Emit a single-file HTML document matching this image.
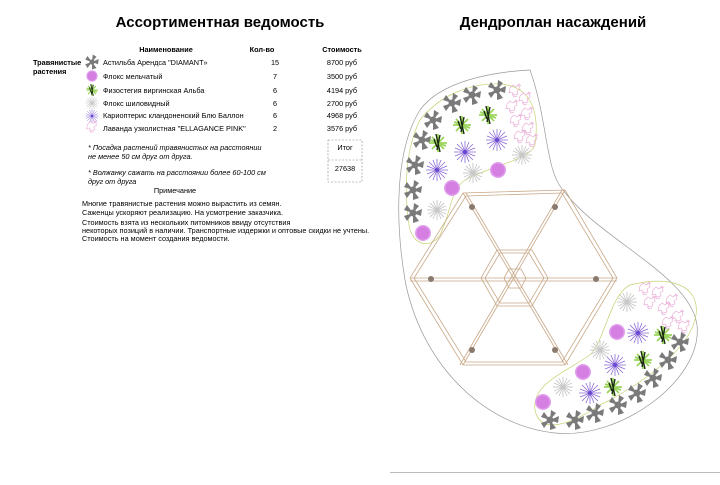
<!DOCTYPE html>
<html><head><meta charset="utf-8"><style>
body{margin:0;width:720px;height:480px;background:#fff;overflow:hidden;font-family:"Liberation Sans",sans-serif;}
</style></head><body>
<svg width="720" height="480" viewBox="0 0 720 480" xmlns="http://www.w3.org/2000/svg" font-family="Liberation Sans, sans-serif">
<defs>
<g id="pw"><g fill="#7a7a7a">
<path d="M0,0 L1,-10 L6,-7 Z"/><path d="M0,0 L9,-4 L8,3 Z"/><path d="M0,0 L6,8 L0,10 Z"/><path d="M0,0 L-6,8 L-9,3 Z"/><path d="M0,0 L-9,-3 L-6,-8 Z"/><circle r="3.5"/></g></g>
<g id="ph"><circle r="8" fill="#e0a0ec"/><circle r="6.5" fill="#d070e0" opacity=".7"/></g>
<g id="gr"><g stroke="#9ad45a" stroke-width="1.8"><line x1="-9" y1="0" x2="9" y2="0"/><line x1="0" y1="-9" x2="0" y2="9"/><line x1="-6" y1="-6" x2="6" y2="6"/><line x1="-6" y1="6" x2="6" y2="-6"/><line x1="-8" y1="-3" x2="8" y2="3"/></g><path d="M-2,-9 L2,9 M2,-8 L-1,7 M-4,-4 L-1,4" stroke="#1a2a10" stroke-width="1.4"/></g>
<g id="vi"><g stroke="#8a6ad8" stroke-width=".8"><line x1="-11" y1="0" x2="11" y2="0"/><line x1="0" y1="-11" x2="0" y2="11"/><line x1="-8" y1="-8" x2="8" y2="8"/><line x1="-8" y1="8" x2="8" y2="-8"/><line x1="-10" y1="-4" x2="10" y2="4"/><line x1="-4" y1="10" x2="4" y2="-10"/><line x1="-10" y1="4" x2="10" y2="-4"/><line x1="4" y1="10" x2="-4" y2="-10"/></g><circle r="2" fill="#6a4ad0"/></g>
<g id="sp"><g stroke="#c8c8c8" stroke-width=".9"><line x1="-10" y1="0" x2="10" y2="0"/><line x1="0" y1="-10" x2="0" y2="10"/><line x1="-7" y1="-7" x2="7" y2="7"/><line x1="-7" y1="7" x2="7" y2="-7"/><line x1="-9" y1="-4" x2="9" y2="4"/><line x1="-4" y1="9" x2="4" y2="-9"/><line x1="-9" y1="4" x2="9" y2="-4"/><line x1="4" y1="9" x2="-4" y2="-9"/></g></g>
<g id="lv" fill="none" stroke="#eab0d8" stroke-width=".7"><path d="M-5,-4 l3,-3 3,2 3,-2 1,4 -3,2 1,3 -4,1 -2,-3 -3,1z M-3,2 l2,3 3,-1 M2,-6 l2,-2 2,2"/></g>
</defs>
<text x="220" y="27" font-size="15" font-weight="bold" text-anchor="middle">Ассортиментная ведомость</text>
<text x="553" y="27" font-size="15" font-weight="bold" text-anchor="middle">Дендроплан насаждений</text>
<g font-size="7.3">
<g font-weight="bold"><text x="166" y="52" text-anchor="middle">Наименование</text><text x="262" y="52" text-anchor="middle">Кол-во</text><text x="342" y="52" text-anchor="middle">Стоимость</text>
<text x="33" y="65">Травянистые</text><text x="33" y="74">растения</text></g>
<g transform="translate(92,62) scale(.75)"><use href="#pw"/></g>
<g transform="translate(92,76) scale(.7)"><use href="#ph"/></g>
<g transform="translate(92,90) scale(.65)"><use href="#gr"/></g>
<g transform="translate(92,103) scale(.65)"><use href="#sp"/></g>
<g transform="translate(92,116) scale(.6)"><use href="#vi"/></g>
<g transform="translate(92,128) scale(.9)"><use href="#lv"/></g>
<text x="103" y="65">Астильба Арендса "DIAMANT»</text><text x="275" y="65" text-anchor="middle">15</text><text x="342" y="65" text-anchor="middle">8700 руб</text>
<text x="103" y="79">Флокс мельчатый</text><text x="275" y="79" text-anchor="middle">7</text><text x="342" y="79" text-anchor="middle">3500 руб</text>
<text x="103" y="93">Физостегия виргинская Альба</text><text x="275" y="93" text-anchor="middle">6</text><text x="342" y="93" text-anchor="middle">4194 руб</text>
<text x="103" y="106">Флокс шиловидный</text><text x="275" y="106" text-anchor="middle">6</text><text x="342" y="106" text-anchor="middle">2700 руб</text>
<text x="103" y="118">Кариоптерис кландоненский Блю Баллон</text><text x="275" y="118" text-anchor="middle">6</text><text x="342" y="118" text-anchor="middle">4968 руб</text>
<text x="103" y="131">Лаванда узколистная "ELLAGANCE PINK"</text><text x="275" y="131" text-anchor="middle">2</text><text x="342" y="131" text-anchor="middle">3576 руб</text>
<g font-style="italic"><text x="88" y="150">* Посадка растений травянистых на расстоянии</text><text x="88" y="159">не менее 50 см друг от друга.</text>
<text x="88" y="175">* Волжанку сажать на расстоянии более 60-100 см</text><text x="88" y="184">друг от друга</text></g>
<text x="175" y="193" text-anchor="middle">Примечание</text>
<rect x="328" y="140" width="34" height="42" fill="none" stroke="#888" stroke-width=".6" stroke-dasharray="2,1.5"/>
<line x1="328" y1="160" x2="362" y2="160" stroke="#888" stroke-width=".6" stroke-dasharray="2,1.5"/>
<text x="345" y="150" text-anchor="middle">Итог</text><text x="345" y="171" text-anchor="middle">27638</text>
<text x="82" y="206">Многие травянистые растения можно вырастить из семян.</text>
<text x="82" y="215">Саженцы ускоряют реализацию. На усмотрение заказчика.</text>
<text x="82" y="225">Стоимость взята из нескольких питомников ввиду отсутствия</text>
<text x="82" y="233">некоторых позиций в наличии. Транспортные издержки и оптовые скидки не учтены.</text>
<text x="82" y="241">Стоимость на момент создания ведомости.</text>
</g>
<path d="M530,70 C548,120 545,170 563,190 C600,240 690,275 697,325 C703,380 620,440 555,433 C480,425 420,360 405,280 C395,220 395,150 420,110 C440,82 490,72 530,70 Z" fill="none" stroke="#999" stroke-width=".7"/>
<path d="M500,84 C530,86 540,110 535,145 C530,160 485,168 465,180 C450,190 452,210 440,235 C430,250 412,245 409,225 C404,190 405,150 420,120 C440,95 470,83 500,84 Z" fill="none" stroke="#c8d070" stroke-width=".7"/>
<path d="M630,285 C670,275 700,285 696,315 C692,345 650,380 600,405 C570,425 540,435 535,410 C532,385 560,375 590,355 C605,340 610,295 630,285 Z" fill="none" stroke="#c8d070" stroke-width=".7"/>
<g fill="none" stroke="#c9a888" stroke-width=".8">
<polygon points="463,193 565,190 617,278 565,365 463,365 410,278"/>
<polygon points="466,196 562,193 613,278 562,362 466,362 414,278"/>
<line x1="410" y1="278" x2="617" y2="278"/><line x1="410" y1="281" x2="617" y2="281"/>
<line x1="463" y1="193" x2="565" y2="365"/><line x1="466" y1="193" x2="568" y2="365"/>
<line x1="565" y1="190" x2="463" y2="365"/><line x1="562" y1="190" x2="460" y2="365"/>
<polygon points="497,250 532,250 548,278 532,306 497,306 481,278"/>
<polygon points="500,253 529,253 544,278 529,303 500,303 485,278"/>
<polygon points="509,269 521,269 526,278 521,288 509,288 504,278"/>
</g>
<g fill="#8a7a6e"><circle cx="472" cy="207" r="3"/><circle cx="555" cy="207" r="3"/><circle cx="431" cy="279" r="3"/><circle cx="596" cy="279" r="3"/><circle cx="472" cy="350" r="3"/><circle cx="555" cy="350" r="3"/></g>
<g>
<use href="#lv" x="515" y="92"/><use href="#lv" x="525" y="100"/><use href="#lv" x="512" y="108"/><use href="#lv" x="527" y="115"/><use href="#lv" x="516" y="122"/><use href="#lv" x="528" y="130"/><use href="#lv" x="520" y="138"/><use href="#lv" x="532" y="142"/>
<use href="#lv" x="645" y="290"/><use href="#lv" x="658" y="294"/><use href="#lv" x="672" y="302"/><use href="#lv" x="650" y="304"/><use href="#lv" x="664" y="310"/><use href="#lv" x="678" y="318"/><use href="#lv" x="668" y="324"/><use href="#lv" x="684" y="328"/>
<use href="#pw" x="472" y="95"/><use href="#pw" x="497" y="90"/><use href="#pw" x="452" y="103"/><use href="#pw" x="433" y="120"/><use href="#pw" x="422" y="140"/><use href="#pw" x="415" y="165"/><use href="#pw" x="413" y="190"/><use href="#pw" x="413" y="213"/>
<use href="#pw" x="550" y="420"/><use href="#pw" x="575" y="420"/><use href="#pw" x="595" y="413"/><use href="#pw" x="618" y="405"/><use href="#pw" x="637" y="393"/><use href="#pw" x="653" y="378"/><use href="#pw" x="668" y="360"/><use href="#pw" x="680" y="342"/>
<use href="#gr" x="462" y="125"/><use href="#gr" x="488" y="115"/><use href="#gr" x="438" y="143"/><use href="#gr" x="663" y="335"/><use href="#gr" x="643" y="360"/><use href="#gr" x="613" y="387"/>
<use href="#vi" x="465" y="152"/><use href="#vi" x="497" y="140"/><use href="#vi" x="437" y="170"/><use href="#vi" x="638" y="333"/><use href="#vi" x="615" y="365"/><use href="#vi" x="590" y="393"/>
<use href="#ph" x="498" y="170"/><use href="#ph" x="452" y="188"/><use href="#ph" x="423" y="233"/><use href="#ph" x="617" y="332"/><use href="#ph" x="583" y="372"/><use href="#ph" x="543" y="402"/>
<use href="#sp" x="473" y="173"/><use href="#sp" x="522" y="155"/><use href="#sp" x="437" y="210"/><use href="#sp" x="627" y="302"/><use href="#sp" x="600" y="350"/><use href="#sp" x="563" y="387"/>
</g>
<line x1="390" y1="472.5" x2="720" y2="472.5" stroke="#bbb" stroke-width="1"/>
</svg>
</body></html>
